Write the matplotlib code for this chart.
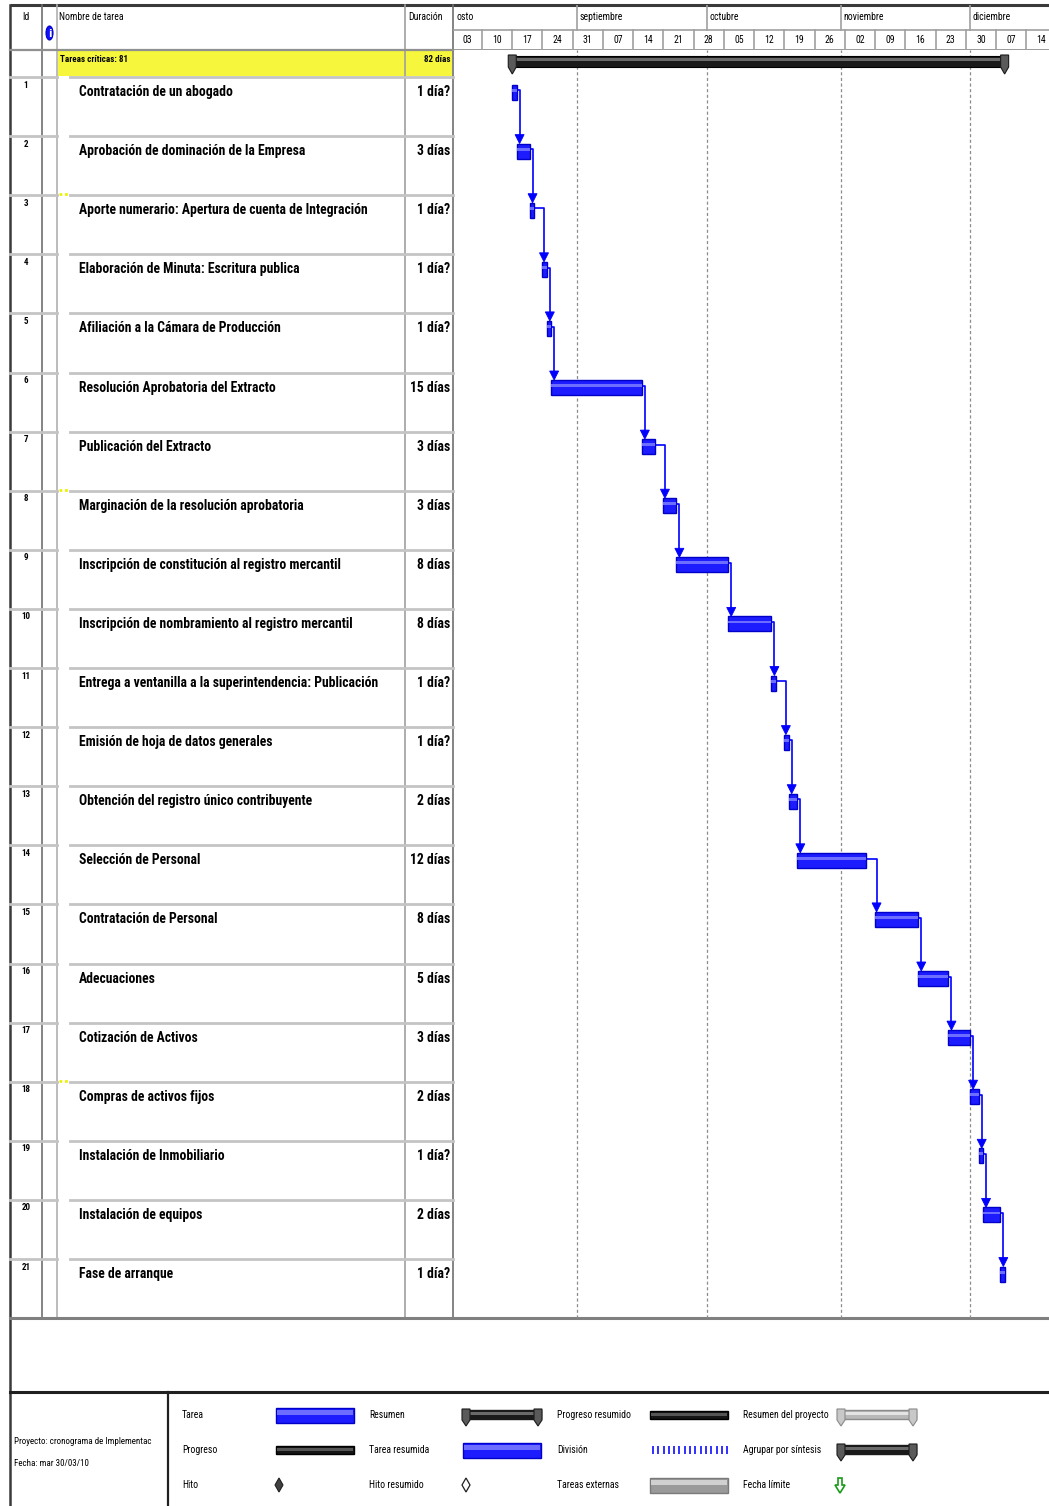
import numpy as np
import matplotlib
matplotlib.use("Agg")
import matplotlib.pyplot as plt
import matplotlib.dates as mdates
from matplotlib.patches import Rectangle, Polygon, Ellipse
from matplotlib import font_manager
from datetime import datetime

# ---------------- data ----------------
task_ids = list(range(1, 22))
task_names = [
    "Contratación de un abogado",
    "Aprobación de dominación de la Empresa",
    "Aporte numerario: Apertura de cuenta de Integración",
    "Elaboración de Minuta: Escritura publica",
    "Afiliación a la Cámara de Producción",
    "Resolución Aprobatoria del Extracto",
    "Publicación del Extracto",
    "Marginación de la resolución aprobatoria",
    "Inscripción de constitución al registro mercantil",
    "Inscripción de nombramiento al registro mercantil",
    "Entrega a ventanilla a la superintendencia: Publicación",
    "Emisión de hoja de datos generales",
    "Obtención del registro único contribuyente",
    "Selección de Personal",
    "Contratación de Personal",
    "Adecuaciones",
    "Cotización de Activos",
    "Compras de activos fijos",
    "Instalación de Inmobiliario",
    "Instalación de equipos",
    "Fase de arranque",
]
durations = [1, 3, 1, 1, 1, 15, 3, 3, 8, 8, 1, 1, 2, 12, 8, 5, 3, 2, 1, 2, 1]
duration_labels = ["1 día?", "3 días", "1 día?", "1 día?", "1 día?", "15 días",
                   "3 días", "3 días", "8 días", "8 días", "1 día?", "1 día?",
                   "2 días", "12 días", "8 días", "5 días", "3 días", "2 días",
                   "1 día?", "2 días", "1 día?"]
start_dates = ["2009-08-17", "2009-08-18", "2009-08-21", "2009-08-24", "2009-08-25",
               "2009-08-26", "2009-09-16", "2009-09-21", "2009-09-24", "2009-10-06",
               "2009-10-16", "2009-10-19", "2009-10-20", "2009-10-22", "2009-11-09",
               "2009-11-19", "2009-11-26", "2009-12-01", "2009-12-03", "2009-12-04",
               "2009-12-08"]
summary_label = "Tareas críticas: 81"
summary_duration = "82 días"
timescale_start = "2009-08-03"
n_weeks = 21
month_starts = ["2009-09-01", "2009-10-01", "2009-11-01", "2009-12-01"]
month_names = ["septiembre", "octubre", "noviembre", "diciembre"]
first_month_tail = "osto"   # visible part of the August cell, which starts off-screen
project_info = ["Proyecto: cronograma de Implementac", "Fecha: mar 30/03/10"]

# ---------------- fonts ----------------
available = {f.name for f in font_manager.fontManager.ttflist}
NARROW = "DejaVu Sans"
for cand in ["Liberation Sans Narrow", "Roboto Condensed", "DejaVu Sans Condensed",
             "Liberation Sans"]:
    if cand in available:
        NARROW = cand
        break
FS_SMALL = 7
FS_TASK = 9.8

# ---------------- layout (pixels) ----------------
W, H = 1049, 1506
X_LEFT, X_ID, X_IND, X_NAME, X_DUR, X_GANTT = 10, 42, 57, 405, 453, 1049
Y_TOP, Y_HDR, Y_ROW0 = 5, 50, 77
ROW_H = 59.1
Y_TASK_END = Y_ROW0 + ROW_H * len(task_ids)
Y_LEG = 1392
PX_PER_DAY = 4.319
X_ORIGIN = 451.8  # pixel of the first timescale week start

fig = plt.figure(figsize=(W / 100, H / 100), dpi=100)
fig.patch.set_facecolor("white")

bg = fig.add_axes([0, 0, 1, 1])
bg.set_xlim(0, W)
bg.set_ylim(H, 0)
bg.axis("off")

GRID = "#c4c4c4"
DARK = "#3a3a3a"

# ---------------- table frame ----------------
bg.plot([X_LEFT, W], [Y_TOP, Y_TOP], color=DARK, lw=2.2, solid_capstyle="butt")
bg.plot([X_LEFT, X_LEFT], [Y_TOP, H], color=DARK, lw=1.8)
for x, c in [(X_ID, "#707070"), (X_IND, "#b0b0b0"), (X_NAME, "#a0a0a0"), (X_DUR, "#707070")]:
    bg.plot([x, x], [Y_TOP, Y_TASK_END], color=c, lw=1.2)
bg.plot([X_LEFT, X_DUR], [Y_HDR, Y_HDR], color="#909090", lw=1.6)

# summary (critical tasks) row
bg.add_patch(Rectangle((X_IND + 1, Y_HDR + 1), X_DUR - X_IND - 2, Y_ROW0 - Y_HDR - 2,
                       facecolor="#f6f63c", edgecolor="none", lw=0))
bg.text(X_IND + 3, 59, summary_label, fontsize=FS_SMALL - 0.5, family=NARROW,
        fontstretch="condensed", va="center", ha="left", weight="bold")
bg.text(X_DUR - 2, 59, summary_duration, fontsize=FS_SMALL - 0.5, family=NARROW,
        fontstretch="condensed", va="center", ha="right", weight="bold")

# row grid lines
for k in range(len(task_ids)):
    y = Y_ROW0 + k * ROW_H
    bg.plot([X_LEFT, X_IND], [y, y], color=GRID, lw=2)
    bg.plot([70, X_DUR], [y, y], color=GRID, lw=2)
for k in [2, 7, 17]:
    y = Y_ROW0 + k * ROW_H - 1
    bg.plot([X_IND + 2, 70], [y, y], color="#f0f000", lw=2, ls=(0, (1, 1)))

# header texts
bg.text((X_LEFT + X_ID) / 2, 17, "Id", fontsize=FS_SMALL, family=NARROW,
        fontstretch="condensed", ha="center", va="center")
bg.add_patch(Ellipse((49.5, 33), 7, 14, facecolor="#1010ff", edgecolor="#0000c0", lw=0.8))
bg.text(49.5, 33.5, "i", fontsize=7, color="white", weight="bold", ha="center",
        va="center", family="DejaVu Sans")
bg.text(X_IND + 2, 17, "Nombre de tarea", fontsize=FS_SMALL, family=NARROW,
        fontstretch="condensed", ha="left", va="center")
bg.text(X_NAME + 3, 17, "Duración", fontsize=FS_SMALL, family=NARROW,
        fontstretch="condensed", ha="left", va="center")

# task rows text
for i, (tid, name, dl) in enumerate(zip(task_ids, task_names, duration_labels)):
    top = Y_ROW0 + i * ROW_H
    bg.text(26, top + 8, str(tid), fontsize=FS_SMALL - 0.5, family=NARROW,
            fontstretch="condensed", ha="center", va="center", weight="bold")
    bg.text(79, top + 15, name, fontsize=FS_TASK, family=NARROW,
            fontstretch="condensed", ha="left", va="center", weight="bold")
    bg.text(X_DUR - 3, top + 15, dl, fontsize=FS_TASK, family=NARROW,
            fontstretch="condensed", ha="right", va="center", weight="bold")

# bottom separators
bg.plot([X_LEFT, W], [Y_TASK_END, Y_TASK_END], color="#808080", lw=2.2)
bg.plot([X_LEFT, W], [Y_LEG, Y_LEG], color="#202020", lw=2.2)
bg.plot([168, 168], [Y_LEG, H], color="#202020", lw=1.6)

# ---------------- timescale axes ----------------
t0 = mdates.date2num(datetime.strptime(timescale_start, "%Y-%m-%d"))
xmin = t0 + (X_DUR - X_ORIGIN) / PX_PER_DAY
xmax = t0 + (X_GANTT - X_ORIGIN) / PX_PER_DAY


def fig_rect(x0, y0, x1, y1):
    return [x0 / W, 1 - y1 / H, (x1 - x0) / W, (y1 - y0) / H]


hx = fig.add_axes(fig_rect(X_DUR, Y_TOP, X_GANTT, Y_HDR))
hx.set_xlim(xmin, xmax)
hx.set_ylim(Y_HDR, Y_TOP)
hx.axis("off")
hx.patch.set_alpha(0)
hx.axhline(30, color="#a0a0a0", lw=1.2)
hx.axhline(Y_HDR, color="#909090", lw=2)
week_dates = [t0 + 7 * k for k in range(n_weeks)]
for wd in week_dates:
    hx.plot([wd, wd], [30, Y_HDR], color="#a0a0a0", lw=1.2)
    hx.text(wd + 3.5, 40, mdates.num2date(wd).strftime("%d"), fontsize=FS_SMALL,
            family=NARROW, fontstretch="condensed", ha="center", va="center",
            clip_on=True)

hx.text(xmin + 0.7, 17, first_month_tail, fontsize=FS_SMALL, family=NARROW,
        fontstretch="condensed", ha="left", va="center")
for ms, mn in zip(month_starts, month_names):
    md = mdates.date2num(datetime.strptime(ms, "%Y-%m-%d"))
    hx.plot([md, md], [Y_TOP, 30], color="#a0a0a0", lw=1.2)
    hx.text(md + 0.6, 17, mn, fontsize=FS_SMALL, family=NARROW,
            fontstretch="condensed", ha="left", va="center")

# ---------------- gantt axes ----------------
gx = fig.add_axes(fig_rect(X_DUR, Y_HDR, X_GANTT, Y_TASK_END))
gx.set_xlim(xmin, xmax)
gx.set_ylim(len(task_ids), (Y_HDR - Y_ROW0) / ROW_H)
gx.axis("off")
gx.patch.set_alpha(0)

for ms in month_starts:
    md = mdates.date2num(datetime.strptime(ms, "%Y-%m-%d"))
    gx.axvline(md, color="#8c8c8c", lw=0.9, ls=(0, (2.5, 2)))

starts = np.array(start_dates, dtype="datetime64[D]")
last_days = np.busday_offset(starts, np.array(durations) - 1, roll="forward")
ends = last_days + np.timedelta64(1, "D")
s_num = mdates.date2num(starts.astype("datetime64[s]").astype(datetime))
e_num = mdates.date2num(ends.astype("datetime64[s]").astype(datetime))

BAR_OFF = 15 / ROW_H
BAR_H = 15 / ROW_H
BLUE = "#1c1cff"

# project summary bar
ps, pe = s_num.min(), e_num.max()
y_top_s, y_bot_s = (56 - Y_ROW0) / ROW_H, (67 - Y_ROW0) / ROW_H
cap_w = 8 / PX_PER_DAY
gx.add_patch(Rectangle((ps, y_top_s), pe - ps, y_bot_s - y_top_s, facecolor="#1a1a1a",
                       edgecolor="#000000", lw=0.8, zorder=3))
gx.add_patch(Rectangle((ps, y_top_s + 0.04), pe - ps, 0.045, facecolor="#6a6a6a",
                       edgecolor="none", zorder=3))
for cx in (ps, pe):
    cap = [(cx - cap_w / 2, (55 - Y_ROW0) / ROW_H), (cx + cap_w / 2, (55 - Y_ROW0) / ROW_H),
           (cx + cap_w / 2, (67 - Y_ROW0) / ROW_H), (cx, (74 - Y_ROW0) / ROW_H),
           (cx - cap_w / 2, (67 - Y_ROW0) / ROW_H)]
    gx.add_patch(Polygon(cap, closed=True, facecolor="#5a5a5a", edgecolor="#1a1a1a",
                         lw=0.8, zorder=4))

# task bars
for i in range(len(task_ids)):
    yc = i + BAR_OFF
    gx.add_patch(Rectangle((s_num[i], yc - BAR_H / 2), e_num[i] - s_num[i], BAR_H,
                           facecolor=BLUE, edgecolor="#0000c8", lw=1.0, zorder=5))
    gx.add_patch(Rectangle((s_num[i], yc - BAR_H / 2 + 0.07), e_num[i] - s_num[i], 0.05,
                           facecolor="#6d6dff", edgecolor="none", zorder=6))

# finish-to-start links
arr_h = 9 / ROW_H
arr_w = 9 / PX_PER_DAY
for i in range(len(task_ids) - 1):
    y0 = i + BAR_OFF - 0.03
    ax_x = max(e_num[i] + 3 / PX_PER_DAY, s_num[i + 1] + 1.5 / PX_PER_DAY)
    y_tip = (i + 1) + BAR_OFF - BAR_H / 2
    gx.plot([e_num[i], ax_x, ax_x], [y0, y0, y_tip - arr_h * 0.6], color="#0000ff",
            lw=1.2, zorder=4, solid_joinstyle="round")
    gx.add_patch(Polygon([(ax_x - arr_w / 2, y_tip - arr_h), (ax_x + arr_w / 2, y_tip - arr_h),
                          (ax_x, y_tip)], closed=True, facecolor="#0000ff",
                         edgecolor="#0000ff", lw=0.6, zorder=7))

# ---------------- legend ----------------
leg_rows = [1415, 1450, 1485]
leg_cols = [(182, 276), (369, 463), (557, 650), (743, 838)]
sym_w = 78
legend_labels = [["Tarea", "Progreso", "Hito"],
                 ["Resumen", "Tarea resumida", "Hito resumido"],
                 ["Progreso resumido", "División", "Tareas externas"],
                 ["Resumen del proyecto", "Agrupar por síntesis", "Fecha límite"]]
for c, (lx, sx) in enumerate(leg_cols):
    for r, y in enumerate(leg_rows):
        bg.text(lx, y, legend_labels[c][r], fontsize=FS_SMALL, family=NARROW,
                fontstretch="condensed", ha="left", va="center")


def leg_bar(x, y, h, face, edge, stripe=None):
    bg.add_patch(Rectangle((x, y - h / 2), sym_w, h, facecolor=face, edgecolor=edge, lw=1))
    if stripe:
        bg.add_patch(Rectangle((x + 1, y - h / 2 + 2), sym_w - 2, h / 3, facecolor=stripe,
                               edgecolor="none"))


def leg_summary(x, y, face, capface, edge, stripe):
    bg.add_patch(Rectangle((x, y - 5), sym_w, 9, facecolor=face, edgecolor=edge, lw=1))
    bg.add_patch(Rectangle((x + 2, y - 3), sym_w - 4, 2.5, facecolor=stripe, edgecolor="none"))
    for cx in (x + 3, x + sym_w - 3):
        bg.add_patch(Polygon([(cx - 4, y - 6), (cx + 4, y - 6), (cx + 4, y + 5), (cx, y + 11),
                              (cx - 4, y + 5)], closed=True, facecolor=capface,
                             edgecolor=edge, lw=0.8))


leg_bar(276, 1415, 15, BLUE, "#0000c8", "#6d6dff")
leg_bar(276, 1450, 8, "#151515", "#000000", "#555555")
bg.add_patch(Polygon([(279, 1478), (283, 1485), (279, 1492), (275, 1485)], closed=True,
                     facecolor="#404040", edgecolor="#202020", lw=0.8))
leg_summary(463, 1415, "#1a1a1a", "#5a5a5a", "#1a1a1a", "#6a6a6a")
leg_bar(463, 1450, 15, BLUE, "#0000c8", "#6d6dff")
bg.add_patch(Polygon([(466, 1478), (470, 1485), (466, 1492), (462, 1485)], closed=True,
                     facecolor="white", edgecolor="#202020", lw=0.9))
leg_bar(650, 1415, 8, "#151515", "#000000", "#555555")
bg.vlines(np.arange(653, 729, 5.3), 1446, 1454, color="#2020ff", lw=1.3)
leg_bar(650, 1485, 15, "#9a9a9a", "#7a7a7a", "#d0d0d0")
leg_summary(838, 1415, "#b8b8b8", "#c8c8c8", "#8a8a8a", "#e4e4e4")
leg_summary(838, 1450, "#1a1a1a", "#5a5a5a", "#1a1a1a", "#6a6a6a")
bg.add_patch(Polygon([(838, 1478), (842, 1478), (842, 1485), (845, 1485), (840, 1493),
                      (835, 1485), (838, 1485)], closed=True, facecolor="white",
                     edgecolor="#1a9a1a", lw=1.2))

bg.text(14, 1441, project_info[0], fontsize=FS_SMALL - 0.5, family=NARROW,
        fontstretch="condensed", ha="left", va="center")
bg.text(14, 1463, project_info[1], fontsize=FS_SMALL - 0.5, family=NARROW,
        fontstretch="condensed", ha="left", va="center")

fig.savefig("out.png", dpi=100, facecolor="white")
